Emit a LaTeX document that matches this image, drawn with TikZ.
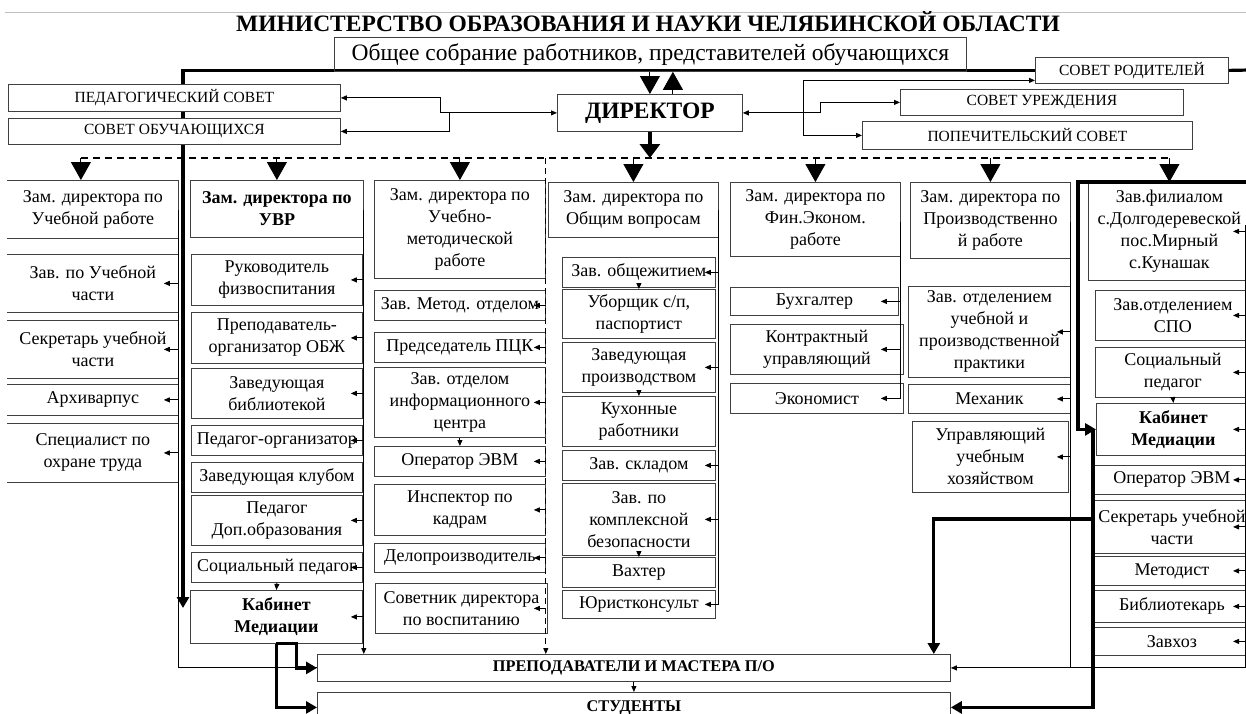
\documentclass[tikz,border=0pt]{standalone}
\usepackage{fontspec}
\setmainfont{Liberation Serif}
\usetikzlibrary{arrows.meta, positioning, calc, backgrounds}

\tikzset{
  box/.style={draw=black!75, line width=0.8pt, align=center, inner sep=1pt,
              anchor=north west, font=\fontsize{18}{22}\selectfont},
  bbox/.style={box, font=\bfseries\fontsize{18}{22}\selectfont},
  openbox/.style={box, draw=none},
  council/.style={box, fill=white, font=\fontsize{15.5}{18}\selectfont},
  wh/.style 2 args={minimum width=#1pt, minimum height=#2pt},
  conn/.style={line width=0.9pt},
  heavy/.style={line width=3.2pt},
  sarr/.style={-{Triangle[length=6pt,width=5pt]}},
  sboth/.style={{Triangle[length=6pt,width=5pt]}-{Triangle[length=6pt,width=5pt]}},
  harr/.style={-{Triangle[length=11pt,width=12pt]}},
  tarr/.style={-{Triangle[length=18pt,width=20pt]}},
}

\begin{document}
\begin{tikzpicture}[x=1pt, y=-1pt]
\useasboundingbox (0,0) rectangle (1246,713);
\draw[black!25, line width=0.8pt] (5,12) -- (1246,12);

\node[font=\bfseries\fontsize{23.5}{27}\selectfont] (title) at (648,22)
  {МИНИСТЕРСТВО ОБРАЗОВАНИЯ И НАУКИ ЧЕЛЯБИНСКОЙ ОБЛАСТИ};
\node[box, wh={632}{34}, font=\fontsize{23.5}{27}\selectfont] (meet) at (334,37)
  {Общее собрание работников, представителей обучающихся};
\node[box, wh={185}{37}, font=\bfseries\fontsize{23.5}{27}\selectfont] (dir) at (557,94) {ДИРЕКТОР};

% councils
\node[council, wh={332}{27}] (pedsov) at (8,84) {ПЕДАГОГИЧЕСКИЙ СОВЕТ};
\node[council, wh={332}{26}] (stusov) at (8,118) {СОВЕТ ОБУЧАЮЩИХСЯ};
\node[council, wh={193}{26}] (parsov) at (1035,57) {СОВЕТ РОДИТЕЛЕЙ};
\node[council, wh={283}{26}] (instsov) at (900,89) {СОВЕТ УРЕЖДЕНИЯ};
\node[council, wh={330}{28}] (trustsov) at (862,121) {ПОПЕЧИТЕЛЬСКИЙ СОВЕТ};

% column 1
\node[openbox, wh={171}{58}] (a1) at (7,180) {Зам. директора по\\Учебной работе};
\node[openbox, wh={171}{58}] (a2) at (7,254) {Зав. по Учебной\\части};
\node[openbox, wh={171}{58}] (a3) at (7,320) {Секретарь учебной\\части};
\node[openbox, wh={171}{31}] (a4) at (7,384) {Архиварпус};
\node[openbox, wh={171}{59}] (a5) at (7,423) {Специалист по\\охране труда};
\foreach \n in {a1,a2,a3,a4,a5}
  \draw[draw=black!75, line width=0.8pt] (\n.north west) -| (\n.south east) -- (\n.south west);

% column 2
\node[bbox, wh={173}{57}] (b1) at (190,180) {Зам. директора по\\УВР};
\node[box, wh={171}{51}] (b2) at (191,254) {Руководитель\\физвоспитания};
\node[box, wh={171}{51}] (b3) at (191,312) {Преподаватель-\\организатор ОБЖ};
\node[box, wh={171}{50}] (b4) at (191,368) {Заведующая\\библиотекой};
\node[box, wh={171}{30}] (b5) at (191,425) {Педагог-организатор};
\node[box, wh={171}{30}] (b6) at (191,462) {Заведующая клубом};
\node[box, wh={171}{50}] (b7) at (191,495) {Педагог\\Доп.образования};
\node[box, wh={171}{30}] (b8) at (191,552) {Социальный педагог};
\node[bbox, wh={172}{53}] (b9) at (190,590) {Кабинет\\Медиации};

% column 3
\node[box, wh={171}{98}] (c1) at (374,180) {Зам. директора по\\Учебно-\\методической\\работе};
\node[box, wh={171}{30}] (c2) at (374,290) {Зав. Метод. отделом};
\node[box, wh={171}{30}] (c3) at (374,332) {Председатель ПЦК};
\node[box, wh={171}{70}] (c4) at (374,367) {Зав. отделом\\информационного\\центра};
\node[box, wh={171}{30}] (c5) at (374,446) {Оператор ЭВМ};
\node[box, wh={171}{51}] (c6) at (374,484) {Инспектор по\\кадрам};
\node[box, wh={171}{29}] (c7) at (374,543) {Делопроизводитель};
\node[box, wh={172}{50}] (c8) at (375,583) {Советник директора\\по воспитанию};

% column 4
\node[box, wh={170}{55}] (d1) at (548,182) {Зам. директора по\\Общим вопросам};
\node[box, wh={153}{30}] (d2) at (562,257) {Зав. общежитием};
\node[box, wh={153}{49}] (d3) at (562,289) {Уборщик с/п,\\паспортист};
\node[box, wh={153}{50}] (d4) at (562,342) {Заведующая\\производством};
\node[box, wh={153}{50}] (d5) at (562,396) {Кухонные\\работники};
\node[box, wh={153}{30}] (d6) at (562,450) {Зав. складом};
\node[box, wh={153}{72}] (d7) at (562,483) {Зав. по\\комплексной\\безопасности};
\node[box, wh={153}{30}] (d8) at (562,557) {Вахтер};
\node[box, wh={153}{28}] (d9) at (562,590) {Юристконсульт};

% column 5
\node[box, wh={170}{74}] (e1) at (730,182) {Зам. директора по\\Фин.Эконом.\\работе};
\node[box, wh={168}{28}] (e2) at (730,287) {Бухгалтер};
\node[box, wh={173}{50}] (e3) at (730,324) {Контрактный\\управляющий};
\node[box, wh={173}{30}] (e4) at (730,383) {Экономист};

% column 6
\node[box, wh={160}{76}] (f1) at (910,182) {Зам. директора по\\Производственно\\й работе};
\node[box, wh={162}{91}] (f2) at (908,286) {Зав. отделением\\учебной и\\производственной\\практики};
\node[box, wh={162}{29}] (f3) at (908,384) {Механик};
\node[box, wh={156}{71}] (f4) at (912,421) {Управляющий\\учебным\\хозяйством};

% column 7
\node[box, wh={162}{98}] (g1) at (1088,182) {Зав.филиалом\\с.Долгодеревеской\\пос.Мирный\\с.Кунашак};
\node[box, wh={155}{50}] (g2) at (1095,290) {Зав.отделением\\СПО};
\node[box, wh={155}{50}] (g3) at (1095,347) {Социальный\\педагог};
\node[bbox, wh={154}{52}] (g4) at (1096,403) {Кабинет\\Медиации};
\node[box, wh={157}{29}] (g5) at (1093,465) {Оператор ЭВМ};
\node[box, wh={157}{53}] (g6) at (1093,500) {Секретарь учебной\\части};
\node[box, wh={157}{29}] (g7) at (1093,556) {Методист};
\node[box, wh={157}{32}] (g8) at (1093,590) {Библиотекарь};
\node[box, wh={157}{28}] (g9) at (1093,627) {Завхоз};

% bottom
\node[box, wh={633}{27}, font=\bfseries\fontsize{16.3}{19}\selectfont] (prep) at (317,654) {ПРЕПОДАВАТЕЛИ И МАСТЕРА П/О};
\node[box, wh={633}{30}, font=\bfseries\fontsize{16.3}{19}\selectfont] (stud) at (317,692) {СТУДЕНТЫ};

% distribution line
\coordinate (dl) at (0,158);
\coordinate (a1t) at ($(a1.north)+(-12,0)$);
\draw[line width=1.3pt, dash pattern=on 7pt off 5pt] (a1t |- dl) -- (g1.north |- dl);
\foreach \n in {a1t,b1.north,c1.north,d1.north,e1.north,f1.north,g1.north}
  \draw[conn,tarr] (\n |- dl) -- (\n);

% director
\draw[heavy,-{Triangle[length=14pt,width=20pt]}] (dir.south) -- (dir.south |- dl);
\draw[conn,tarr] (dir.north |- meet.south) -- (dir.north);
\draw[conn,tarr] ($(dir.north)+(23,0)$) -- ($(dir.north |- meet.south)+(23,0)$);
\draw[conn,sboth] (pedsov.east) -- ++(100,0) |- (dir.west);
\draw[conn,sarr] ($(dir.west)+(-108,0)$) |- (stusov.east);
\draw[conn,sboth] (dir.east) -- ++(78,0) |- (instsov.west);
\draw[conn,sarr] ($(dir.east)+(61,0)$) |- ($(parsov.west)+(0,10)$);
\draw[conn,sarr] ($(dir.east)+(61,0)$) |- (trustsov.west);

% heavy lines
\coordinate (edge1) at (1250,70);
\coordinate (edge2) at (1250,182);
\begin{pgfonlayer}{background}
  \draw[heavy,harr] (parsov.west) -| ($(b9.north west)+(-7,18)$);
\end{pgfonlayer}
\draw[heavy] (parsov.east) -- (edge1);
\draw[heavy,harr] (edge2) -| ($(g4.west)+(-18,0)$) -- (g4.west);
\draw[heavy,harr] ($(g4.west)+(-3,0)$) |- (stud.east);
\draw[heavy,harr] ($(g4.west |- g6.north)+(-3,19)$) -| ($(prep.north east)+(-17,0)$);
\draw[conn] ($(a1.north east)+(0,30)$) |- (prep.west);
\draw[heavy,harr] (b9.south) |- (stud.west);
\draw[heavy,harr] (b9.south) -- ++(20,0) |- (prep.west);

% column links
\foreach \n in {a2,a3,a4,a5}
  \draw[conn,sarr] (\n.east) -- ++(-15,0);
\draw[conn,sarr] ($(b1.north east)+(0,30)$) -- (b1.east |- prep.north);
\foreach \n in {b2,b3,b4,b5,b7,b8,b9}
  \draw[conn,sarr] (b1.east |- \n.east) -- ++(-13,0);
\draw[conn,sarr,dash pattern=on 6pt off 4pt] (c1.east |- dl) -- (c1.east |- prep.north);
\foreach \n in {c2,c3,c4,c5,c6,c7,c8}
  \draw[conn,sarr] (c1.east |- \n.east) -- ++(-12,0);
\draw[conn] ($(d1.north east)+(0,28)$) -- (d1.east |- d9.east);
\foreach \n in {d2,d4,d6,d7,d9}
  \draw[conn,sarr] (d1.east |- \n.east) -- ++(-14,0);
\draw[conn] ($(e1.north east)+(0,40)$) -- (e1.east |- e4.east);
\foreach \n in {e2,e3,e4}
  \draw[conn,sarr] (e1.east |- \n.east) -- ++(-20,0);
\draw[conn,sarr] ($(f1.north east)+(0,40)$) |- (prep.east);
\foreach \n in {f2,f3,f4}
  \draw[conn,sarr] (f1.east |- \n.east) -- ++(-14,0);
\coordinate (gv) at (1245,225);
\draw[conn] (gv) -- (gv |- prep.east) -- (f1.east |- prep.east);
\foreach \n in {g1,g2,g3,g4,g5,g6,g7,g8,g9}
  \draw[conn,sarr] (gv |- \n.west) -- ++(-12,0);

% small links
\foreach \u/\v in {b8/b9,c4/c5,d2/d3,d4/d5,d7/d8,g3/g4,prep/stud}
  \draw[conn,sarr] (\u.south) -- (\v.north);
\end{tikzpicture}
\end{document}
